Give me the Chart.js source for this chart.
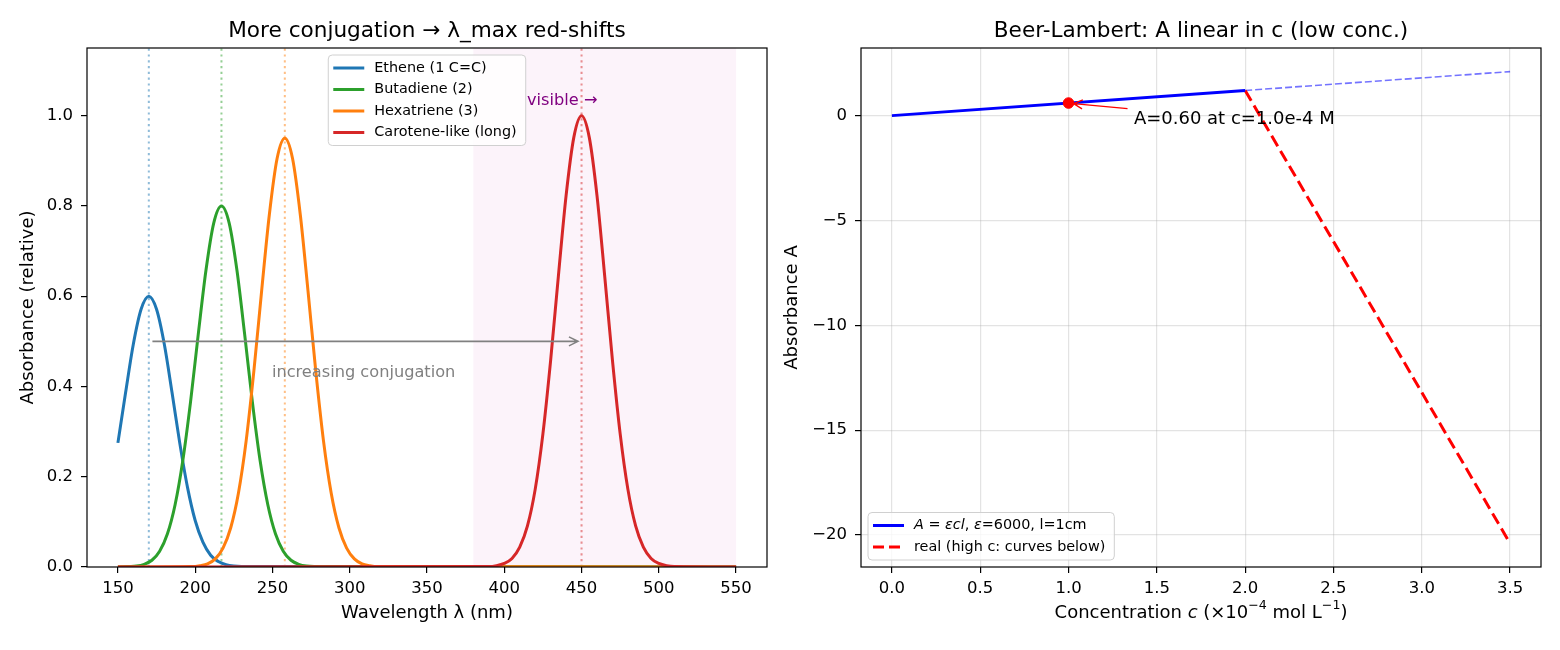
<!DOCTYPE html>
<html>
<head>
<meta charset="utf-8">
<script src="https://cdn.jsdelivr.net/npm/chart.js@4.4.1/dist/chart.umd.min.js"></script>
<style>
  html, body { margin: 0; padding: 0; background: #fff; }
  #wrap { position: relative; width: 1560px; height: 650px; }
  canvas { position: absolute; top: 0; }
  #left { left: 0; }
  #right { left: 780px; }
</style>
</head>
<body>
<div id="wrap">
  <canvas id="left" width="780" height="650"></canvas>
  <canvas id="right" width="780" height="650"></canvas>
</div>
<script>
// ---- left panel data: absorption bands ----
const ETHENE_X = [150,155,160,165,170,175,180,185,190,195,200,205,210,215,220,225,230,550];
const ETHENE_Y = [0.275,0.387,0.494,0.571,0.600,0.571,0.494,0.387,0.275,0.177,0.103,0.055,0.026,0.012,0.005,0.002,0.001,0];

const BUTADIENE_X = [150,157,162,167,172,177,182,187,192,197,202,207,212,217,222,227,232,237,242,247,252,257,262,267,272,277,550];
const BUTADIENE_Y = [0,0.001,0.002,0.006,0.015,0.035,0.073,0.138,0.236,0.366,0.516,0.658,0.762,0.800,0.762,0.658,0.516,0.366,0.236,0.138,0.073,0.035,0.015,0.006,0.002,0.001,0];

const HEXATRIENE_X = [150,198,203,208,213,218,223,228,233,238,243,248,253,258,263,268,273,278,283,288,293,298,303,308,313,318,550];
const HEXATRIENE_Y = [0,0.001,0.003,0.007,0.018,0.042,0.087,0.164,0.280,0.435,0.612,0.781,0.905,0.950,0.905,0.781,0.612,0.435,0.280,0.164,0.087,0.042,0.018,0.007,0.003,0.001,0];

const CAROTENE_X = [150,390,395,400,405,410,415,420,425,430,435,440,445,450,455,460,465,470,475,480,485,490,495,500,505,510,550];
const CAROTENE_Y = [0,0.001,0.003,0.008,0.019,0.044,0.091,0.172,0.295,0.458,0.644,0.823,0.952,1.000,0.952,0.823,0.644,0.458,0.295,0.172,0.091,0.044,0.019,0.008,0.003,0.001,0];

const SERIES_NAMES = ["Ethene (1 C=C)", "Butadiene (2)", "Hexatriene (3)", "Carotene-like (long)"];
const SERIES_COLORS = ["#1f77b4", "#2ca02c", "#ff7f0e", "#d62728"];
const PEAK_WL = [170, 217, 258, 450];
const VISIBLE_BAND = [380, 550];
const SHIFT_ARROW = [170, 450, 0.5];

const WL_TICKS = [150,200,250,300,350,400,450,500,550];
const ABS_TICKS = [0,0.2,0.4,0.6,0.8,1.0];

// ---- right panel data: Beer-Lambert ----
const IDEAL_C = [0, 2];
const IDEAL_A = [0, 1.2];
const EXTRAP_C = [2, 3.5];
const EXTRAP_A = [1.2, 2.1];
const REAL_C = [2, 3.5];
const REAL_A = [1.2, -20.4];
const MARK_C = [1.0];
const MARK_A = [0.6];

const CONC_TICKS = [0,0.5,1.0,1.5,2.0,2.5,3.0,3.5];
const A_TICKS = [-20,-15,-10,-5,0];

const FONT = "'DejaVu Sans', sans-serif";
Chart.defaults.font.family = FONT;
Chart.defaults.color = "#000";

function pts(xs, ys) { return xs.map((x, i) => ({x: x, y: ys[i]})); }

function rich(ctx, parts, x, y, align) {
  let w = 0;
  parts.forEach(p => { ctx.font = p.f; w += ctx.measureText(p.t).width; });
  let cx = align === "center" ? x - w / 2 : x;
  ctx.textAlign = "left";
  parts.forEach(p => {
    ctx.font = p.f;
    ctx.fillText(p.t, cx, y + (p.dy || 0));
    cx += ctx.measureText(p.t).width;
  });
  return w;
}

function arrow(ctx, x1, y1, x2, y2, color, lw) {
  const a = Math.atan2(y2 - y1, x2 - x1);
  ctx.save();
  ctx.strokeStyle = color;
  ctx.lineWidth = lw;
  ctx.beginPath();
  ctx.moveTo(x1, y1); ctx.lineTo(x2, y2);
  ctx.moveTo(x2 - 9 * Math.cos(a) + 4.5 * Math.sin(a), y2 - 9 * Math.sin(a) - 4.5 * Math.cos(a));
  ctx.lineTo(x2, y2);
  ctx.lineTo(x2 - 9 * Math.cos(a) - 4.5 * Math.sin(a), y2 - 9 * Math.sin(a) + 4.5 * Math.cos(a));
  ctx.stroke();
  ctx.restore();
}

function legendBox(ctx, left, top, items) {
  ctx.save();
  let tw = 0;
  items.forEach(it => {
    let w = 0;
    it.parts.forEach(p => { ctx.font = p.f; w += ctx.measureText(p.t).width; });
    tw = Math.max(tw, w);
  });
  const w = 46 + tw + 9, h = 26 + 21.5 * (items.length - 1);
  ctx.beginPath();
  ctx.roundRect(left, top, w, h, 4);
  ctx.fillStyle = "rgba(255,255,255,0.8)";
  ctx.fill();
  ctx.strokeStyle = "#d0d0d0";
  ctx.lineWidth = 1;
  ctx.stroke();
  items.forEach((it, i) => {
    const cy = top + 13 + 21.5 * i;
    ctx.beginPath();
    ctx.strokeStyle = it.color;
    ctx.lineWidth = 3;
    ctx.setLineDash(it.dash || []);
    ctx.moveTo(left + 5, cy); ctx.lineTo(left + 36, cy);
    ctx.stroke();
    ctx.setLineDash([]);
    ctx.fillStyle = "#000";
    ctx.textBaseline = "middle";
    rich(ctx, it.parts, left + 46, cy, "left");
  });
  ctx.restore();
  return w;
}

function spines(ctx, a) {
  ctx.save();
  ctx.strokeStyle = "#000";
  ctx.lineWidth = 1.2;
  ctx.strokeRect(a.left, a.top, a.right - a.left, a.bottom - a.top);
  ctx.restore();
}

const axisCommon = (ticks, fmt, pad, gridOn) => ({
  type: "linear",
  afterBuildTicks: s => { s.ticks = ticks.map(v => ({value: v})); },
  grid: {drawOnChartArea: gridOn, color: "rgba(176,176,176,0.35)", lineWidth: 1.2,
         tickLength: 6, tickColor: "#000", tickWidth: 1.2},
  border: {display: false},
  ticks: {color: "#000", font: {size: 16.5}, padding: pad, autoSkip: false, maxRotation: 0,
          callback: v => fmt(v)}
});

// ---------------- left chart ----------------
const leftDecor = {
  id: "leftDecor",
  beforeDatasetsDraw(chart) {
    const {ctx, chartArea: a, scales: {x, y}} = chart;
    ctx.save();
    ctx.beginPath();
    ctx.rect(a.left, a.top, a.right - a.left, a.bottom - a.top);
    ctx.clip();
    ctx.fillStyle = "#fcf3fa";
    const x0 = x.getPixelForValue(VISIBLE_BAND[0]), x1 = x.getPixelForValue(VISIBLE_BAND[1]);
    ctx.fillRect(x0, a.top, x1 - x0, a.bottom - a.top);
    PEAK_WL.forEach((wl, i) => {
      const px = x.getPixelForValue(wl);
      ctx.beginPath();
      ctx.strokeStyle = SERIES_COLORS[i];
      ctx.globalAlpha = 0.5;
      ctx.lineWidth = 2;
      ctx.setLineDash([2.2, 3.6]);
      ctx.moveTo(px, a.bottom); ctx.lineTo(px, a.top);
      ctx.stroke();
    });
    ctx.restore();
  },
  afterDraw(chart) {
    const {ctx, chartArea: a, scales: {x, y}} = chart;
    ctx.save();
    // shift arrow + labels
    const ay = y.getPixelForValue(SHIFT_ARROW[2]);
    arrow(ctx, x.getPixelForValue(SHIFT_ARROW[0]) + 3.6, ay, x.getPixelForValue(SHIFT_ARROW[1]) - 3.6, ay, "#808080", 1.6);
    ctx.textBaseline = "middle";
    ctx.textAlign = "center";
    ctx.fillStyle = "#808080";
    ctx.font = "16.2px " + FONT;
    ctx.fillText("increasing conjugation", x.getPixelForValue(309), y.getPixelForValue(0.43));
    ctx.fillStyle = "#800080";
    ctx.fillText("visible \u2192", x.getPixelForValue(437.5), y.getPixelForValue(1.032));
    // legend (upper center)
    const f = "14.4px " + FONT;
    const items = SERIES_NAMES.map((n, i) => ({color: SERIES_COLORS[i], parts: [{t: n, f: f}]}));
    let tw = 0;
    ctx.font = f;
    SERIES_NAMES.forEach(n => { tw = Math.max(tw, ctx.measureText(n).width); });
    const lw = 46 + tw + 9;
    legendBox(ctx, (a.left + a.right) / 2 - lw / 2, a.top + 7, items);
    spines(ctx, a);
    // title and axis labels
    ctx.fillStyle = "#000";
    ctx.textAlign = "center";
    ctx.textBaseline = "middle";
    ctx.font = "21.6px " + FONT;
    ctx.fillText("More conjugation \u2192 \u03bb_max red-shifts", (a.left + a.right) / 2, 31);
    ctx.font = "18px " + FONT;
    ctx.fillText("Wavelength \u03bb (nm)", (a.left + a.right) / 2, 613);
    ctx.translate(28, (a.top + a.bottom) / 2);
    ctx.rotate(-Math.PI / 2);
    ctx.fillText("Absorbance (relative)", 0, 0);
    ctx.restore();
  }
};

const leftSets = [
  [ETHENE_X, ETHENE_Y], [BUTADIENE_X, BUTADIENE_Y], [HEXATRIENE_X, HEXATRIENE_Y], [CAROTENE_X, CAROTENE_Y]
].map((s, i) => ({
  label: SERIES_NAMES[i],
  data: pts(s[0], s[1]),
  borderColor: SERIES_COLORS[i],
  borderWidth: 3,
  pointRadius: 0,
  cubicInterpolationMode: "monotone",
  order: 3 - i
}));

new Chart(document.getElementById("left"), {
  type: "line",
  data: {datasets: leftSets},
  options: {
    responsive: false,
    animation: false,
    layout: {padding: {top: 48, right: 13, left: 0, bottom: 0}},
    plugins: {legend: {display: false}, tooltip: {enabled: false}},
    scales: {
      x: Object.assign(axisCommon(WL_TICKS, v => String(v), 6, false),
        {min: 130, max: 570, afterFit: s => { s.height = 83; }}),
      y: Object.assign(axisCommon(ABS_TICKS, v => v.toFixed(1), 8, false),
        {min: 0, max: 1.15, afterFit: s => { s.width = 87; }})
    }
  },
  plugins: [leftDecor]
});

// ---------------- right chart ----------------
const rightDecor = {
  id: "rightDecor",
  afterDraw(chart) {
    const {ctx, chartArea: a, scales: {x, y}} = chart;
    ctx.save();
    // annotation
    const hx = x.getPixelForValue(MARK_C[0]), hy = y.getPixelForValue(MARK_A[0]);
    const tx = x.getPixelForValue(1.334), ty = y.getPixelForValue(0.33);
    const d = Math.hypot(hx - tx, hy - ty);
    arrow(ctx, tx, ty, hx + (tx - hx) * 5 / d, hy + (ty - hy) * 5 / d, "#ff0000", 1.3);
    ctx.fillStyle = "#000";
    ctx.textBaseline = "middle";
    ctx.textAlign = "left";
    ctx.font = "18px " + FONT;
    ctx.fillText("A=0.60 at c=1.0e-4 M", x.getPixelForValue(1.37), y.getPixelForValue(-0.2));
    // legend (lower left)
    const f = "14.4px " + FONT, fi = "italic 14.4px " + FONT;
    const items = [
      {color: "#0000ff", parts: [{t: "A = \u03b5cl", f: fi}, {t: ", ", f: f}, {t: "\u03b5", f: fi}, {t: "=6000, l=1cm", f: f}]},
      {color: "#ff0000", dash: [11, 5], parts: [{t: "real (high c: curves below)", f: f}]}
    ];
    const h = 26 + 21.5;
    legendBox(ctx, a.left + 7, a.bottom - 7 - h, items);
    spines(ctx, a);
    // title and axis labels
    ctx.fillStyle = "#000";
    ctx.textAlign = "center";
    ctx.textBaseline = "middle";
    ctx.font = "21.6px " + FONT;
    ctx.fillText("Beer-Lambert: A linear in c (low conc.)", (a.left + a.right) / 2, 31);
    const n = "18px " + FONT, s = "12.6px " + FONT;
    rich(ctx, [
      {t: "Concentration ", f: n}, {t: "c", f: "italic 18px " + FONT}, {t: " (\u00d710", f: n},
      {t: "\u22124", f: s, dy: -7}, {t: " mol L", f: n}, {t: "\u22121", f: s, dy: -7}, {t: ")", f: n}
    ], (a.left + a.right) / 2, 613, "center");
    ctx.font = n;
    ctx.textAlign = "center";
    ctx.translate(12, (a.top + a.bottom) / 2);
    ctx.rotate(-Math.PI / 2);
    ctx.fillText("Absorbance A", 0, 0);
    ctx.restore();
  }
};

new Chart(document.getElementById("right"), {
  type: "line",
  data: {
    datasets: [
      {data: pts(MARK_C, MARK_A), showLine: false, pointRadius: 5.3, pointBackgroundColor: "#ff0000",
       pointBorderColor: "#ff0000", pointBorderWidth: 1, order: 0},
      {data: pts(IDEAL_C, IDEAL_A), borderColor: "#0000ff", borderWidth: 3, pointRadius: 0, order: 1},
      {data: pts(EXTRAP_C, EXTRAP_A), borderColor: "rgba(0,0,255,0.55)", borderWidth: 1.6,
       borderDash: [7, 3], pointRadius: 0, order: 2},
      {data: pts(REAL_C, REAL_A), borderColor: "#ff0000", borderWidth: 3, borderDash: [12, 5.5],
       pointRadius: 0, order: 1}
    ]
  },
  options: {
    responsive: false,
    animation: false,
    layout: {padding: {top: 48, right: 19, left: 0, bottom: 0}},
    plugins: {legend: {display: false}, tooltip: {enabled: false}},
    scales: {
      x: Object.assign(axisCommon(CONC_TICKS, v => v.toFixed(1), 6, true),
        {min: -0.175, max: 3.675, afterFit: s => { s.height = 83; }}),
      y: Object.assign(axisCommon(A_TICKS, v => (v < 0 ? "\u2212" + Math.abs(v) : String(v)), 8, true),
        {min: -21.525, max: 3.225, afterFit: s => { s.width = 81; }})
    }
  },
  plugins: [rightDecor]
});
</script>
</body>
</html>
